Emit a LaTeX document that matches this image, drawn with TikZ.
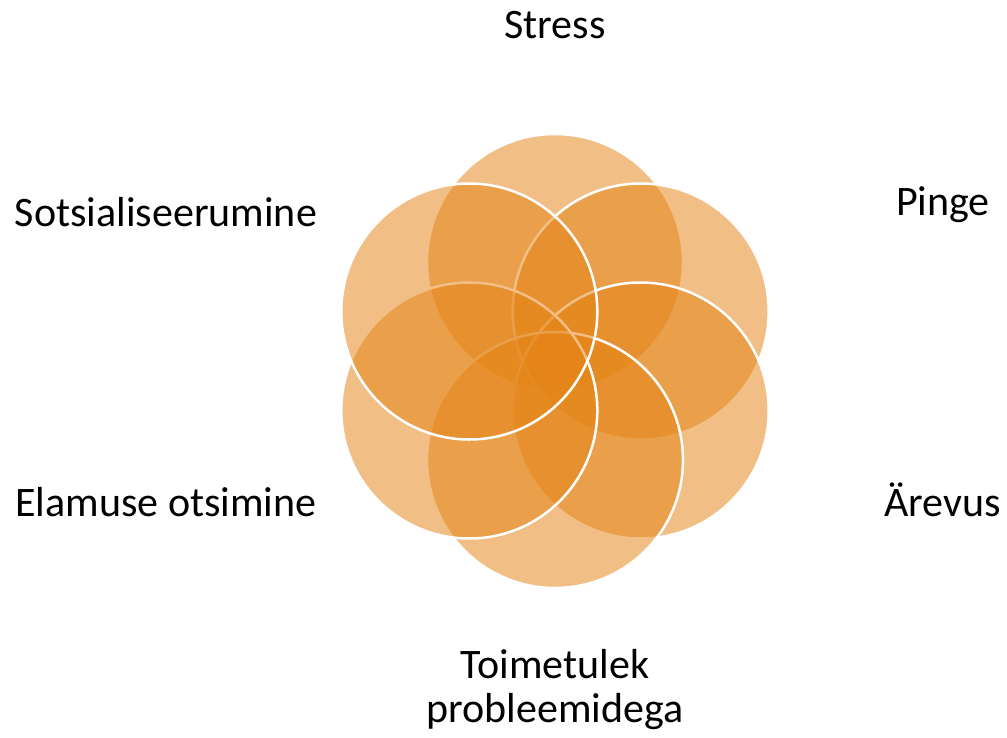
\documentclass[tikz,border=0pt]{standalone}
\usepackage{fontspec}
\setmainfont{Carlito}
\usetikzlibrary{calc}
\definecolor{petalfill}{RGB}{229,132,22}
\tikzset{
  petal/.style={circle, minimum size=256pt, inner sep=0pt, fill=petalfill, fill opacity=0.52, draw=white, draw opacity=1, line width=2.5pt},
  lbl/.style={inner sep=0pt, font=\fontsize{42}{44}\selectfont, text=black, anchor=base}
}
\begin{document}
\begin{tikzpicture}[x=1pt,y=-1pt]
\useasboundingbox (0,0) rectangle (1007,737);
\fill[white] (0,0) rectangle (1007,737);
\coordinate (o) at (555,361);
\node[petal] (cT) at ($(o)+(0,-99)$) {};
\node[petal] (cTR) at ($(o)+(85.7,-49.5)$) {};
\node[petal] (cBR) at ($(o)+(85.7,49.5)$) {};
\node[petal] (cB) at ($(o)+(0,99)$) {};
\node[petal] (cBL) at ($(o)+(-85.7,49.5)$) {};
\node[petal] (cTL) at ($(o)+(-85.7,-49.5)$) {};
\node[lbl] (stress) at (555,38) {Stress};
\node[lbl] (pinge) at (943,215) {Pinge};
\node[lbl] (arevus) at (942.5,516.5) {Ärevus};
\node[lbl] (sots) at (166,226.5) {Sotsialiseerumine};
\node[lbl] (elamus) at (166,516.5) {Elamuse otsimine};
\node[lbl, align=center] (toim) at (555,722) {Toimetulek\\probleemidega};
\end{tikzpicture}
\end{document}
